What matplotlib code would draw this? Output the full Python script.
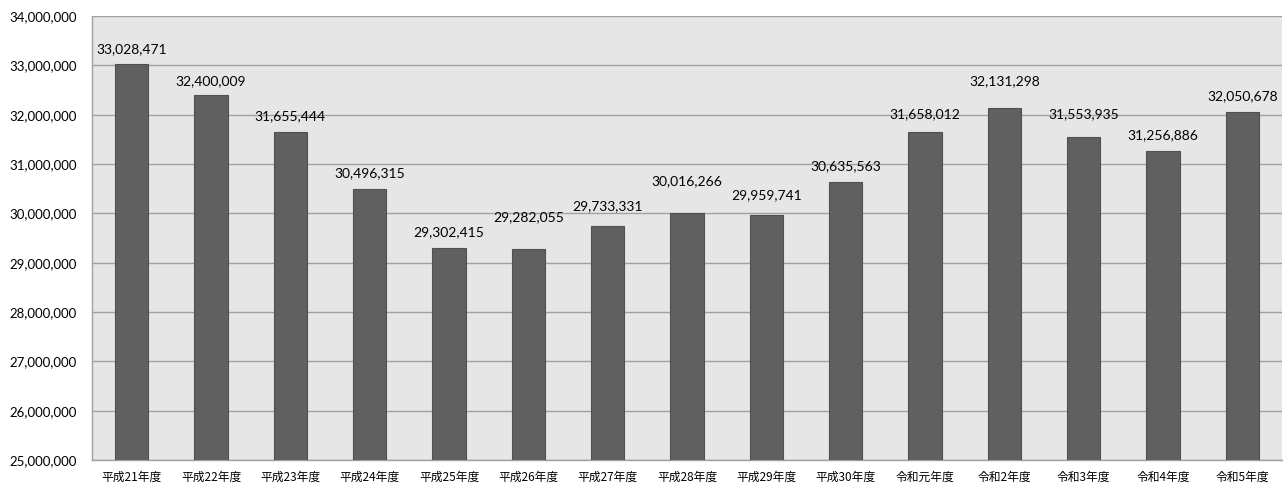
import matplotlib
matplotlib.use("Agg")
import matplotlib.pyplot as plt
from matplotlib.ticker import FuncFormatter, MultipleLocator

categories = ["平成21年度", "平成22年度", "平成23年度", "平成24年度", "平成25年度",
              "平成26年度", "平成27年度", "平成28年度", "平成29年度", "平成30年度",
              "令和元年度", "令和2年度", "令和3年度", "令和4年度", "令和5年度"]
values = [33028471, 32400009, 31655444, 30496315, 29302415,
          29282055, 29733331, 30016266, 29959741, 30635563,
          31658012, 32131298, 31553935, 31256886, 32050678]
# vertical offset (pixels) of each value label centre above its bar
label_offsets_px = [15, 14, 16, 16, 16, 32, 20, 31, 20, 16, 17, 27, 23, 16, 16]

fig = plt.figure(figsize=(12.84, 4.88), dpi=100)
ax = fig.add_axes([92/1284, 28/488, 1190/1284, 444/488])
ax.set_facecolor("#e6e6e6")

x = list(range(len(categories)))
ax.bar(x, values, width=0.42, color="#606060", edgecolor="#505050", linewidth=0.8, zorder=3)

ax.set_xlim(-0.5, len(categories) - 0.5)
ax.set_ylim(25000000, 34000000)
ax.yaxis.set_major_locator(MultipleLocator(1000000))
ax.yaxis.set_major_formatter(FuncFormatter(lambda v, p: f"{int(v):,}"))
ax.grid(axis="y", color="#a0a0a0", linewidth=1.0, zorder=1)
ax.set_axisbelow(True)

for s in ["top", "right"]:
    ax.spines[s].set_visible(False)
for s in ["left", "bottom"]:
    ax.spines[s].set_color("#a0a0a0")
    ax.spines[s].set_linewidth(1.0)

ax.tick_params(axis="y", length=0, pad=11, labelsize=9.5)
ax.tick_params(axis="x", length=0, pad=8)
for lab in ax.get_yticklabels():
    lab.set_fontfamily(["Lato", "DejaVu Sans"])
ax.set_xticks(x)
ax.set_xticklabels(categories, fontsize=8.5, family=["Noto Sans CJK JP", "DejaVu Sans"])

for xi, v, off in zip(x, values, label_offsets_px):
    ax.annotate(f"{v:,}", xy=(xi, v), xytext=(0, off * 0.72), textcoords="offset points",
                ha="center", va="center", fontsize=10, family=["Lato", "DejaVu Sans"],
                color="#000000", zorder=4)

fig.savefig("out.png", dpi=100)
